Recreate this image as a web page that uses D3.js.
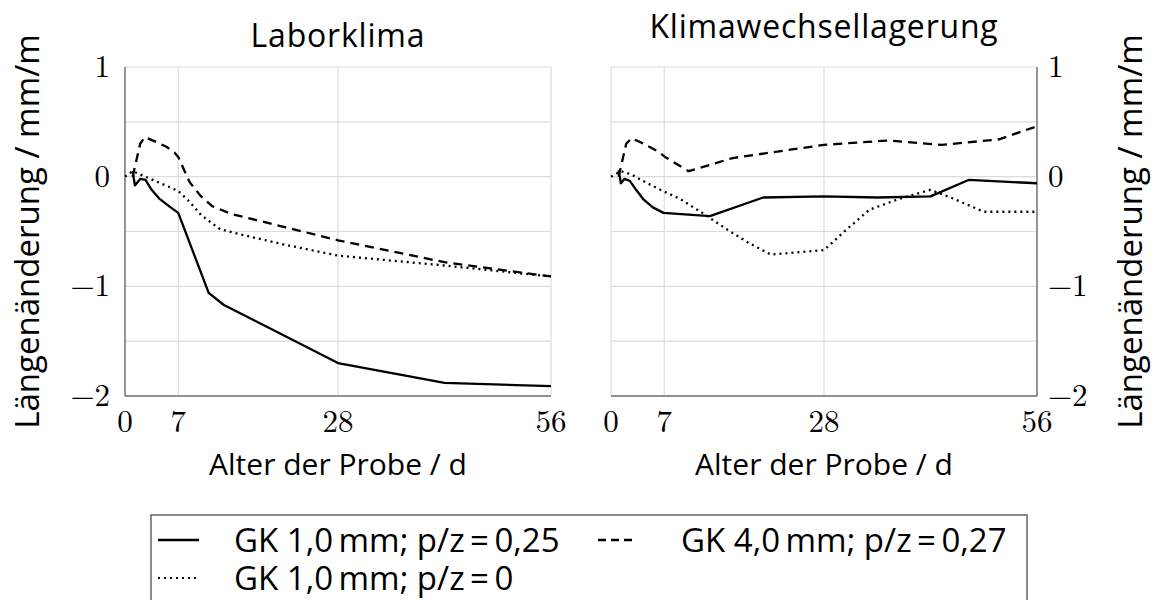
<!DOCTYPE html>
<html>
<head>
<meta charset="utf-8">
<title>Laengenaenderung</title>
<style>
  body { margin: 0; background: #fff; }
</style>
</head>
<body>
<script src="https://d3js.org/d3.v7.min.js"></script>
<svg width="1159" height="600" id="mainsvg"></svg>
<script>
// values: [Alter in d, Laengenaenderung in mm/m]
const panelTitles = ['Laborklima', 'Klimawechsellagerung'];
const xTicks = [0, 7, 28, 56];
const yTicks = [1, 0, -1, -2];
const seriesNames = ['GK 1,0\u2009mm; p/z\u2009=\u20090,25', 'GK 4,0\u2009mm; p/z\u2009=\u20090,27', 'GK 1,0\u2009mm; p/z\u2009=\u20090'];

const laborSolid = [[1,0.05],[1.3,-0.08],[2,-0.02],[2.7,-0.03],[3.5,-0.12],[4.5,-0.2],[6,-0.28],[7,-0.33],[11,-1.06],[13,-1.17],[28,-1.7],[42,-1.88],[56,-1.91]];
const laborDashed = [[1,0],[1.5,0.15],[2,0.3],[2.6,0.36],[4,0.32],[5.5,0.27],[6.5,0.22],[7,0.18],[8.5,-0.05],[10,-0.18],[11.5,-0.27],[14,-0.34],[21,-0.46],[28,-0.58],[42,-0.78],[56,-0.91]];
const laborDotted = [[0,0],[1,0.05],[2,0.02],[3,-0.01],[5,-0.07],[7,-0.13],[8.5,-0.23],[10,-0.35],[12.5,-0.48],[16,-0.54],[21,-0.62],[28,-0.72],[42,-0.81],[56,-0.91]];

const klimaSolid = [[1,0.06],[1.3,-0.06],[1.8,-0.02],[2.5,-0.04],[3.3,-0.12],[4.3,-0.21],[5.5,-0.28],[6.9,-0.33],[13,-0.36],[20,-0.19],[28,-0.18],[35,-0.19],[42,-0.18],[47,-0.03],[56,-0.06]];
const klimaDashed = [[1,0],[1.5,0.15],[2,0.3],[2.7,0.35],[4,0.31],[6.2,0.23],[7.1,0.18],[10.2,0.05],[16,0.17],[21,0.22],[28,0.29],[36.5,0.33],[43.5,0.29],[51,0.34],[56,0.46]];
const klimaDotted = [[0,0],[1.3,0.05],[2.7,0.02],[4.5,-0.05],[6.5,-0.12],[9,-0.2],[12,-0.33],[15,-0.47],[18,-0.6],[21,-0.71],[28,-0.67],[31,-0.48],[34,-0.3],[38,-0.2],[42,-0.12],[45,-0.2],[49,-0.32],[56,-0.32]];

const svg = d3.select('#mainsvg');
const dashes = [null, '9,6', '2,4'];
const sans = "'Open Sans', 'Noto Sans', sans-serif";
const serif = "'Latin Modern Roman', 'Liberation Serif', serif";

const panels = [
  {title: panelTitles[0], left: 125, titleY: 47, side: 'left', data: [laborSolid, laborDashed, laborDotted]},
  {title: panelTitles[1], left: 611, titleY: 38, side: 'right', data: [klimaSolid, klimaDashed, klimaDotted]}
];
const pw = 426, plotTop = 67, ph = 329;

panels.forEach(p => {
  const x = d3.scaleLinear().domain([0, 56]).range([p.left, p.left + pw]);
  const y = d3.scaleLinear().domain([-2, 1]).range([plotTop + ph, plotTop]);
  const g = svg.append('g');

  // grid
  g.selectAll('.gy').data(d3.range(-2, 1.01, 0.5)).join('line')
    .attr('x1', x(0)).attr('x2', x(56))
    .attr('y1', d => y(d)).attr('y2', d => y(d))
    .attr('stroke', '#dcdcdc').attr('stroke-width', 1.2);
  g.selectAll('.gx').data(xTicks).join('line')
    .attr('x1', d => x(d)).attr('x2', d => x(d))
    .attr('y1', y(-2)).attr('y2', y(1))
    .attr('stroke', '#dcdcdc').attr('stroke-width', 1.2);

  // axis lines
  const ax = p.side === 'left' ? x(0) : x(56);
  g.append('line').attr('x1', ax).attr('x2', ax).attr('y1', y(-2)).attr('y2', y(1))
    .attr('stroke', '#707070').attr('stroke-width', 1.4);
  g.append('line').attr('x1', x(0)).attr('x2', x(56)).attr('y1', y(-2)).attr('y2', y(-2))
    .attr('stroke', '#707070').attr('stroke-width', 1.4);

  // tick labels
  g.selectAll('.xt').data(xTicks).join('text')
    .attr('x', d => x(d)).attr('y', 432)
    .attr('text-anchor', 'middle')
    .style('font-family', serif).style('font-size', '31px')
    .text(d => d);
  g.selectAll('.yt').data(yTicks).join('text')
    .attr('x', p.side === 'left' ? x(0) - 15 : x(56) + 11)
    .attr('y', d => y(d) + 10)
    .attr('text-anchor', p.side === 'left' ? 'end' : 'start')
    .style('font-family', serif).style('font-size', '31px')
    .text(d => d < 0 ? '\u2212' + Math.abs(d) : d);

  // titles
  g.append('text').attr('x', x(28)).attr('y', p.titleY).attr('text-anchor', 'middle')
    .style('font-family', sans).style('font-size', '32px').style('letter-spacing', '0.8px').text(p.title);
  g.append('text').attr('x', x(28)).attr('y', 475).attr('text-anchor', 'middle')
    .style('font-family', sans).style('font-size', '30px').text('Alter der Probe / d');
  const tx = p.side === 'left' ? 39 : 1142;
  g.append('text').attr('transform', `translate(${tx},${y(-0.5)}) rotate(-90)`)
    .attr('text-anchor', 'middle')
    .style('font-family', sans).style('font-size', '33px').text('Längenänderung / mm/m');

  // lines
  const line = d3.line().x(d => x(d[0])).y(d => y(d[1]));
  p.data.forEach((s, i) => {
    g.append('path').datum(s).attr('d', line)
      .attr('fill', 'none').attr('stroke', '#000').attr('stroke-width', 2.3)
      .attr('stroke-dasharray', dashes[i]).attr('stroke-linejoin', 'round');
  });
});

// legend
const lg = svg.append('g');
lg.append('rect').attr('x', 151).attr('y', 515).attr('width', 876).attr('height', 100)
  .attr('fill', '#fff').attr('stroke', '#666').attr('stroke-width', 1.5);
const legendPos = [{x: 158, y: 540, tx: 234}, {x: 598, y: 540, tx: 681}, {x: 158, y: 578, tx: 234}];
legendPos.forEach((lp, i) => {
  const len = i === 1 ? 35 : 41;
  lg.append('line').attr('x1', lp.x).attr('x2', lp.x + len).attr('y1', lp.y).attr('y2', lp.y)
    .attr('stroke', '#000').attr('stroke-width', i === 2 ? 2 : 2.3)
    .attr('stroke-dasharray', i === 1 ? '8,5' : dashes[i]);
  lg.append('text').attr('x', lp.tx).attr('y', lp.y + 12)
    .style('font-family', sans).style('font-size', '33px').text(seriesNames[i]);
});
</script>
</body>
</html>
